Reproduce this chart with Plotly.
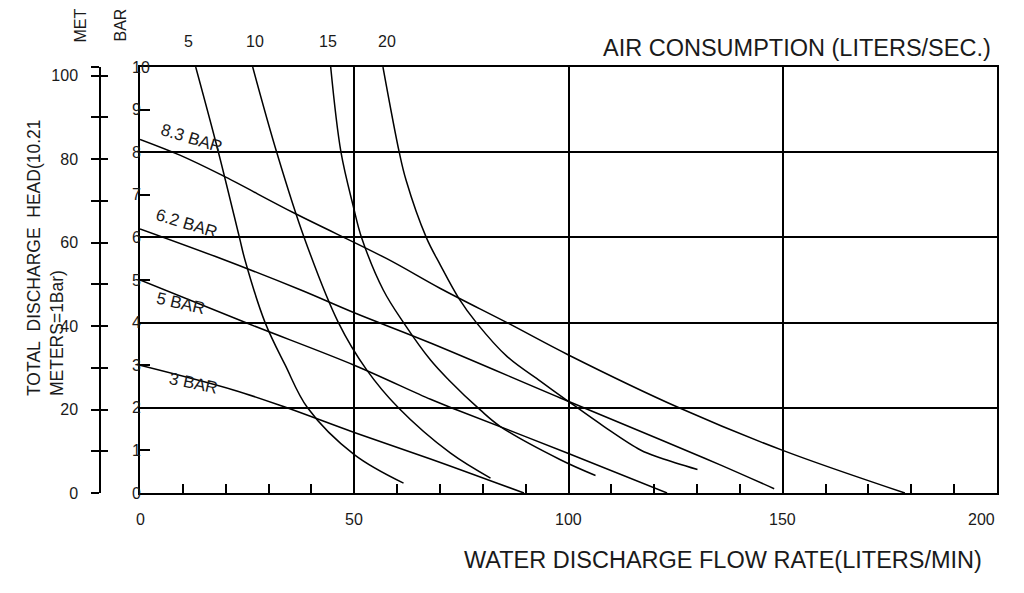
import plotly.graph_objects as go

# pump curves: water flow (L/min) vs head (bar)
p83_flow = [0, 9.3, 19.1, 36.2, 57.6, 70.1, 86, 100, 125.8, 150, 178.5]
p83_head = [8.3, 7.93, 7.46, 6.56, 5.5, 4.80, 3.98, 3.24, 2.0, 1.0, 0]
p62_flow = [0, 18.7, 37.4, 50, 67.8, 98.1, 121.5, 135.4, 148]
p62_head = [6.2, 5.51, 4.77, 4.23, 3.52, 2.23, 1.25, 0.66, 0.1]
p5_flow = [0, 24.9, 50, 67.8, 74, 99.7, 123]
p5_head = [5.0, 3.99, 3.0, 2.2, 1.95, 0.94, 0]
p3_flow = [0, 21.8, 34.3, 50, 67.8, 89.6]
p3_head = [3.0, 2.42, 2.0, 1.42, 0.8, 0]

# air consumption curves (L/s)
a5_flow = [13.0, 18.3, 23.2, 24.5, 29.2, 33.9, 39.1, 50, 61.5]
a5_head = [10, 8, 6, 5.47, 4, 3, 2, 0.9, 0.23]
a10_flow = [26.3, 31.9, 38.3, 46.3, 52.9, 60.3, 72.4, 81.8]
a10_head = [10, 8, 6, 4, 2.89, 2, 0.94, 0.35]
a15_flow = [44.5, 46.9, 49.8, 51.7, 56.8, 61.5, 67.8, 72, 79.4, 84.1, 98.1, 106.3]
a15_head = [10, 8, 6.72, 6, 4.76, 4.0, 3.12, 2.66, 1.95, 1.56, 0.78, 0.41]
a20_flow = [56.7, 60.5, 62.1, 66.8, 70.1, 74.4, 78.5, 85.7, 93.5, 99.3, 108.3, 116.8, 121.5, 130.1]
a20_head = [10, 8, 7.34, 6, 5.35, 4.57, 4, 3.2, 2.62, 2.2, 1.56, 1.01, 0.82, 0.55]

pressure_labels = ["8.3 BAR", "6.2 BAR", "5 BAR", "3 BAR"]
air_labels = ["5", "10", "15", "20"]

flow_ticks = [0, 50, 100, 150, 200]
flow_minor = [10, 20, 30, 40, 60, 70, 80, 90, 110, 120, 130, 140, 160, 170, 180, 190]
bar_ticks = [0, 1, 2, 3, 4, 5, 6, 7, 8, 9, 10]
met_ticks = [0, 10, 20, 30, 40, 50, 60, 70, 80, 90, 100]
M_PER_BAR = 10.21

FONT = "Arial, Liberation Sans, sans-serif"
INK = "#1a1a1a"

# margins (page has an 8px body margin, so figure px = screen px - 8)
L, R, T, B = 52, 35, 59, 108
PW = 1024 - L - R
PH = 593 - T - B


def px(xs):
    # screen x pixel -> paper
    return (xs - 8 - L) / PW


def py(ys):
    # screen y pixel -> paper
    return (593 - B - (ys - 8)) / PH


pressure = [(p83_flow, p83_head), (p62_flow, p62_head), (p5_flow, p5_head), (p3_flow, p3_head)]
air = [(a5_flow, a5_head), (a10_flow, a10_head), (a15_flow, a15_head), (a20_flow, a20_head)]

fig = go.Figure()
for fx, hy in pressure + air:
    fig.add_trace(go.Scatter(
        x=fx, y=hy, mode="lines",
        line=dict(color="black", width=1.5, shape="spline", smoothing=1.0),
        hoverinfo="skip", showlegend=False,
    ))


def note(**kw):
    kw.setdefault("showarrow", False)
    kw.setdefault("xanchor", "center")
    kw.setdefault("yanchor", "middle")
    size = kw.pop("size", 16)
    kw["font"] = dict(size=size, color=INK, family=FONT)
    return kw


annotations = []

# pressure labels, rotated along the lines
label_pos = [(12.1, 8.32, 17), (10.9, 6.33, 17), (9.5, 4.44, 13), (12.6, 2.58, 12)]
for txt, (lx, ly, ang) in zip(pressure_labels, label_pos):
    annotations.append(note(x=lx, y=ly, xref="x", yref="y", text=txt, textangle=ang, size=17))

# air consumption labels above the top of each curve
air_shift = [-7, 2, -3, 4]
for txt, (fx, hy), sh in zip(air_labels, air, air_shift):
    annotations.append(note(x=fx[0], y=py(42), xref="x", yref="paper", text=txt, xshift=sh))

# bar tick labels, left aligned just left of the frame
for v in bar_ticks:
    annotations.append(note(x=px(130), y=v, xref="paper", yref="y", text=str(v), xanchor="left"))

# flow tick labels
for v in flow_ticks:
    annotations.append(note(x=v, y=py(520), xref="x", yref="paper", text=str(v),
                            xanchor="right" if v == flow_ticks[-1] else "center"))

annotations += [
    note(x=px(993), y=py(48), xref="paper", yref="paper", text="AIR CONSUMPTION (LITERS/SEC.)",
         xanchor="right", size=23.5),
    note(x=px(723), y=py(560), xref="paper", yref="paper",
         text="WATER DISCHARGE FLOW RATE(LITERS/MIN)", size=23.5),
    note(x=px(45), y=py(258), xref="paper", yref="paper",
         text="TOTAL\u00a0 DISCHARGE\u00a0 HEAD(10.21<br>METERS=1Bar)",
         textangle=-90, align="left", size=17.5),
    note(x=px(80), y=py(25.5), xref="paper", yref="paper", text="MET", textangle=-90),
    note(x=px(120), y=py(25.5), xref="paper", yref="paper", text="BAR", textangle=-90),
]

met_range = [0, 10 * M_PER_BAR]
met_vals = met_ticks + [10 * M_PER_BAR]
met_text = [str(v) if v % 20 == 0 else "" for v in met_ticks] + [""]

# dummy traces so the metre axes are drawn
fig.add_trace(go.Scatter(x=[None], y=[None], yaxis="y2", showlegend=False, hoverinfo="skip"))
fig.add_trace(go.Scatter(x=[None], y=[None], yaxis="y3", showlegend=False, hoverinfo="skip"))

fig.update_layout(
    width=1024, height=593,
    margin=dict(l=L, r=R, t=T, b=B),
    plot_bgcolor="white", paper_bgcolor="white",
    showlegend=False,
    xaxis=dict(
        range=[0, 200], domain=[px(140), 1],
        tickmode="array", tickvals=flow_ticks, showticklabels=False, ticks="",
        showgrid=True, gridcolor="black", gridwidth=1.5,
        showline=True, linecolor="black", linewidth=2, mirror=True, zeroline=False,
        minor=dict(tickvals=flow_minor, ticks="inside", ticklen=9,
                   tickcolor="black", tickwidth=1.5, showgrid=False),
    ),
    yaxis=dict(
        range=[0, 10],
        tickmode="array", tickvals=[0, 2, 4, 6, 8, 10], showticklabels=False, ticks="",
        showgrid=True, gridcolor="black", gridwidth=1.5,
        showline=True, linecolor="black", linewidth=2, mirror=True, zeroline=False,
        minor=dict(tickvals=[1, 3, 5, 7, 9], ticks="inside", ticklen=10,
                   tickcolor="black", tickwidth=1.5, showgrid=False),
    ),
    yaxis2=dict(
        overlaying="y", anchor="free", position=px(100), side="left",
        range=met_range, tickmode="array", tickvals=met_vals, ticktext=met_text,
        ticks="outside", ticklen=8, tickwidth=1.5, tickcolor="black",
        ticklabelstandoff=10,
        tickfont=dict(size=16, color=INK, family=FONT),
        showline=True, linecolor="black", linewidth=1.5,
        showgrid=False, zeroline=False,
    ),
    yaxis3=dict(
        overlaying="y", anchor="free", position=px(100), side="left",
        range=met_range, tickmode="array", tickvals=met_vals,
        ticks="inside", ticklen=7, tickwidth=1.5, tickcolor="black",
        showticklabels=False, showline=False, showgrid=False, zeroline=False,
    ),
    annotations=annotations,
)

fig.write_html("out.html")
